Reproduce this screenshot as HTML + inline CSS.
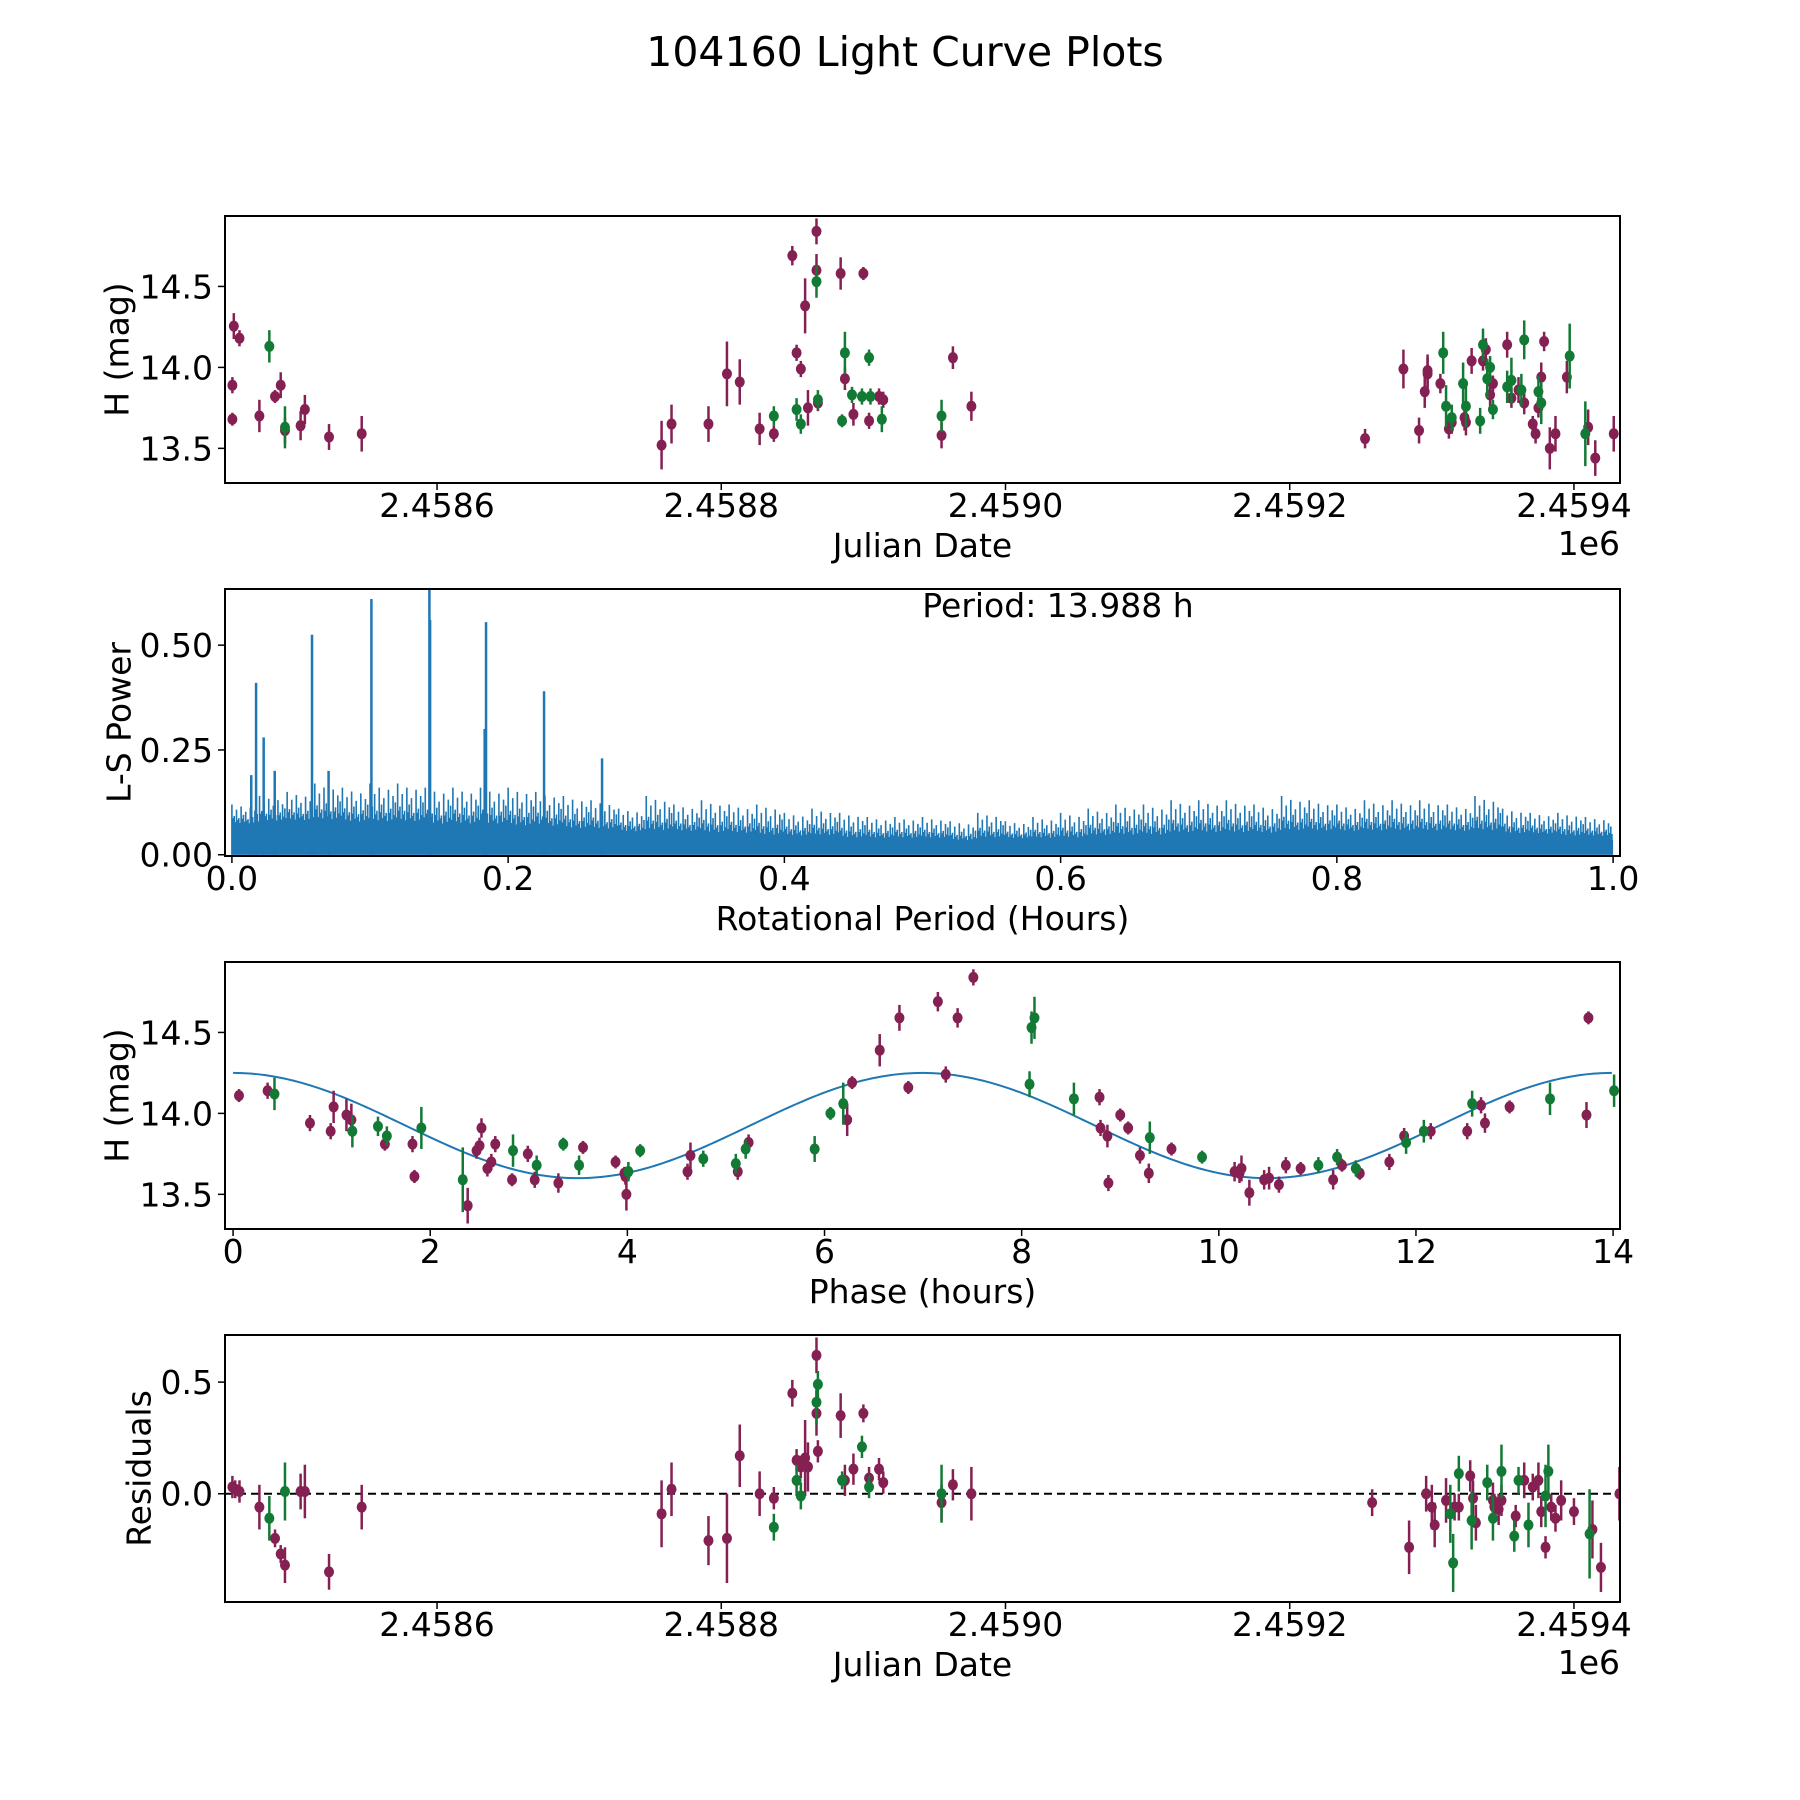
<!DOCTYPE html>
<html><head><meta charset="utf-8"><title>104160 Light Curve Plots</title>
<style>
html,body{margin:0;padding:0;background:#fff;}
svg{display:block;font-family:"DejaVu Sans","Liberation Sans",sans-serif;}
</style></head>
<body>
<svg id="fig" width="1800" height="1800" viewBox="0 0 1800 1800" xmlns="http://www.w3.org/2000/svg">
<rect x="0" y="0" width="1800" height="1800" fill="#fff"/>
<text x="905" y="66" font-size="41" text-anchor="middle">104160 Light Curve Plots</text>
</svg>
<script>
// ---------- Panel 1: light curve (JD - 2458000) ----------
const p1PurpleJD=[457,456,456,461,475,486,490,493,504,507,524,547,758,765,791,804,813,827,837,850,853,856,859,861,867,867,868,884,887,893,900,904,911,914,955,963,976,1253,1280,1291,1295,1297,1297,1306,1312,1314,1323,1324,1328,1336,1338,1341,1343,1353,1356,1361,1365,1371,1373,1375,1377,1379,1383,1387,1395,1410,1415,1428];
const p1PurpleMag=[14.255,13.89,13.68,14.18,13.70,13.82,13.89,13.61,13.64,13.74,13.57,13.59,13.52,13.65,13.65,13.96,13.91,13.62,13.59,14.69,14.09,13.99,14.38,13.75,14.84,14.60,13.78,14.58,13.93,13.71,14.58,13.67,13.82,13.80,13.58,14.06,13.76,13.56,13.99,13.61,13.85,13.98,13.96,13.90,13.62,13.66,13.69,13.66,14.04,14.04,14.11,13.83,13.90,14.14,13.81,13.86,13.78,13.65,13.59,13.75,13.94,14.16,13.50,13.59,13.94,13.63,13.44,13.59];
const p1PurpleErr=[.08,.05,.04,.05,.1,.04,.08,.08,.09,.09,.08,.11,.15,.12,.11,.2,.14,.1,.05,.06,.05,.05,.17,.11,.08,.1,.05,.1,.07,.07,.04,.05,.05,.05,.08,.07,.09,.06,.12,.08,.1,.1,.1,.06,.06,.07,.08,.08,.08,.06,.07,.07,.05,.08,.06,.08,.07,.05,.06,.06,.09,.06,.13,.11,.1,.11,.11,.11];
const p1GreenJD=[482,493,837,853,856,867,868,885,887,892,899,904,905,913,955,1308,1310,1314,1322,1324,1334,1336,1339,1341,1343,1353,1356,1363,1365,1375,1377,1397,1408];
const p1GreenMag=[14.13,13.63,13.70,13.74,13.65,14.53,13.80,13.67,14.09,13.83,13.82,14.06,13.82,13.68,13.70,14.09,13.76,13.69,13.90,13.76,13.67,14.14,13.93,14.00,13.74,13.88,13.92,13.86,14.17,13.85,13.78,14.07,13.59];
const p1GreenErr=[.1,.13,.06,.07,.06,.1,.06,.04,.13,.05,.05,.05,.05,.08,.1,.13,.13,.08,.13,.13,.08,.1,.12,.07,.06,.1,.14,.1,.12,.1,.13,.2,.2];
const jdTicks=[600,800,1000,1200,1400];
const jdTickLabels=["2.4586","2.4588","2.4590","2.4592","2.4594"];
const magTicks=[13.5,14.0,14.5];
const magTickLabels=["13.5","14.0","14.5"];

// ---------- Panel 2: Lomb-Scargle periodogram ----------
const lsEnvX=[0,0.02,0.04,0.06,0.08,0.10,0.12,0.14,0.16,0.18,0.20,0.22,0.24,0.26,0.28,0.30,0.32,0.34,0.36,0.38,0.40,0.42,0.44,0.46,0.48,0.50,0.52,0.54,0.56,0.58,0.60,0.62,0.64,0.66,0.68,0.70,0.72,0.74,0.76,0.78,0.80,0.82,0.84,0.86,0.88,0.90,0.92,0.94,0.96,0.98,1.0];
const lsEnvMax=[0.12,0.14,0.15,0.17,0.16,0.17,0.17,0.16,0.16,0.16,0.16,0.15,0.14,0.13,0.11,0.14,0.12,0.13,0.12,0.12,0.10,0.11,0.10,0.09,0.09,0.09,0.08,0.10,0.08,0.09,0.10,0.11,0.12,0.12,0.13,0.13,0.13,0.12,0.14,0.13,0.12,0.13,0.13,0.13,0.12,0.14,0.11,0.10,0.10,0.09,0.06];
const lsEnvBase=[0.07,0.075,0.075,0.075,0.07,0.07,0.07,0.065,0.065,0.065,0.06,0.06,0.055,0.055,0.05,0.05,0.05,0.045,0.045,0.04,0.04,0.04,0.035,0.035,0.035,0.035,0.03,0.035,0.035,0.035,0.035,0.04,0.04,0.04,0.045,0.045,0.045,0.045,0.05,0.05,0.05,0.05,0.05,0.05,0.05,0.05,0.045,0.045,0.04,0.04,0.035];
const lsPeakX=[0.014,0.0175,0.023,0.031,0.058,0.070,0.101,0.143,0.1435,0.183,0.184,0.226,0.268];
const lsPeakY=[0.19,0.41,0.28,0.20,0.525,0.20,0.61,0.64,0.56,0.30,0.555,0.39,0.23];
const perTicks=[0,0.2,0.4,0.6,0.8,1.0];
const perTickLabels=["0.0","0.2","0.4","0.6","0.8","1.0"];
const powTicks=[0,0.25,0.5];
const powTickLabels=["0.00","0.25","0.50"];

// ---------- Panel 3: phased curve ----------
const p3PurplePhase=[0.06,0.35,0.78,0.99,1.02,1.15,1.2,1.54,1.82,1.84,2.38,2.47,2.5,2.52,2.58,2.62,2.66,2.83,2.99,3.06,3.3,3.55,3.88,3.97,3.98,3.99,4.61,4.64,5.12,5.23,6.23,6.28,6.56,6.76,6.85,7.15,7.23,7.35,7.51,8.79,8.8,8.87,8.88,9.0,9.08,9.2,9.29,9.52,10.16,10.21,10.23,10.31,10.46,10.51,10.61,10.68,10.83,11.16,11.25,11.43,11.73,11.88,12.15,12.52,12.66,12.7,12.95,13.73,13.75];
const p3PurpleMag=[14.11,14.14,13.94,13.89,14.04,13.99,13.96,13.81,13.81,13.61,13.43,13.77,13.80,13.91,13.66,13.70,13.81,13.59,13.75,13.59,13.57,13.79,13.70,13.63,13.61,13.50,13.64,13.74,13.64,13.82,13.96,14.19,14.39,14.59,14.16,14.69,14.24,14.59,14.84,14.10,13.91,13.86,13.57,13.99,13.91,13.74,13.63,13.78,13.64,13.63,13.66,13.51,13.59,13.60,13.56,13.68,13.66,13.59,13.68,13.63,13.70,13.86,13.89,13.89,14.05,13.94,14.04,13.99,14.59];
const p3PurpleErr=[.04,.05,.05,.05,.1,.1,.1,.04,.05,.04,.11,.05,.05,.06,.05,.05,.05,.04,.05,.05,.06,.04,.04,.04,.05,.1,.05,.08,.05,.05,.1,.04,.1,.08,.04,.06,.05,.06,.05,.05,.05,.07,.05,.04,.04,.05,.06,.04,.06,.06,.08,.08,.06,.07,.05,.05,.04,.06,.04,.04,.05,.05,.05,.05,.05,.06,.04,.08,.04];
const p3GreenPhase=[0.42,1.21,1.47,1.56,1.91,2.33,2.84,3.08,3.35,3.51,4.01,4.13,4.77,5.1,5.2,5.9,6.06,6.19,8.08,8.1,8.13,8.53,9.3,9.83,11.01,11.2,11.39,11.9,12.08,12.57,13.36,14.01];
const p3GreenMag=[14.12,13.89,13.92,13.86,13.91,13.59,13.77,13.68,13.81,13.68,13.64,13.77,13.72,13.69,13.78,13.78,14.0,14.06,14.18,14.53,14.59,14.09,13.85,13.73,13.68,13.73,13.66,13.82,13.89,14.06,14.09,14.14];
const p3GreenErr=[.1,.1,.06,.06,.13,.2,.1,.06,.04,.06,.06,.04,.05,.06,.06,.08,.04,.13,.08,.1,.13,.1,.1,.04,.05,.05,.05,.07,.07,.08,.1,.1];
const modelMean=[13.925];
const modelAmp=[0.325];
const modelPeriod=[13.988];
const phaseTicks=[0,2,4,6,8,10,12,14];
const phaseTickLabels=["0","2","4","6","8","10","12","14"];

// ---------- Panel 4: residuals ----------
const p4PurpleJD=[456,458,461,475,486,490,493,504,507,524,547,758,765,791,804,813,827,837,850,853,856,859,861,867,867,868,884,887,893,900,904,911,914,955,963,976,1258,1284,1296,1300,1302,1310,1316,1319,1327,1329,1331,1343,1344,1347,1349,1359,1365,1371,1375,1377,1380,1384,1387,1391,1400,1413,1419,1432];
const p4PurpleRes=[0.03,0.02,0.01,-0.06,-0.2,-0.27,-0.32,0.01,0.01,-0.35,-0.06,-0.09,0.02,-0.21,-0.2,0.17,0.0,-0.02,0.45,0.15,0.12,0.16,0.12,0.62,0.36,0.19,0.35,0.06,0.11,0.36,0.07,0.11,0.05,-0.04,0.04,0.0,-0.04,-0.24,0.0,-0.06,-0.14,-0.03,-0.06,-0.06,0.08,-0.02,-0.13,-0.03,-0.06,-0.07,-0.03,-0.1,0.06,0.03,0.06,-0.08,-0.24,-0.06,-0.11,-0.03,-0.08,-0.16,-0.33,0.0];
const p4PurpleErr=[.05,.04,.05,.1,.04,.04,.08,.08,.12,.08,.1,.15,.12,.11,.2,.14,.1,.05,.06,.05,.05,.17,.11,.08,.1,.05,.1,.07,.07,.04,.05,.05,.05,.08,.07,.12,.06,.12,.08,.1,.1,.1,.06,.06,.07,.08,.08,.08,.06,.07,.07,.05,.08,.06,.08,.07,.05,.06,.06,.09,.06,.13,.11,.12];
const p4GreenJD=[482,493,837,853,856,867,868,885,899,904,955,1313,1315,1319,1328,1339,1343,1349,1358,1361,1368,1380,1382,1411];
const p4GreenRes=[-0.11,0.01,-0.15,0.06,-0.01,0.41,0.49,0.06,0.21,0.03,0.0,-0.09,-0.31,0.09,-0.12,0.05,-0.11,0.1,-0.19,0.06,-0.14,-0.01,0.1,-0.18];
const p4GreenErr=[.1,.13,.06,.07,.06,.1,.06,.04,.05,.05,.13,.13,.13,.08,.13,.08,.1,.12,.07,.06,.1,.14,.12,.2];
const resTicks=[0.0,0.5];
const resTickLabels=["0.0","0.5"];

const NS="http://www.w3.org/2000/svg";
const svg=document.getElementById('fig');
const PURPLE="#852052", GREEN="#137a35", BLUE="#1f77b4";
// texture pattern for noise spikes within each envelope interval (style only)
const SPIKE_TEXTURE=[1,0.45,0.75,0.35,0.9,0.5,0.65,0.3,0.85,0.4,0.7,0.55];
function mk(tag,attrs,parent){const e=document.createElementNS(NS,tag);for(const k in attrs)e.setAttribute(k,attrs[k]);(parent||svg).appendChild(e);return e;}

function makeAxes(name,box,xlim,ylim){
  const g=mk('g',{});
  
  
  const sx=v=>box.x+(v-xlim[0])/(xlim[1]-xlim[0])*box.w;
  const sy=v=>box.y+box.h-(v-ylim[0])/(ylim[1]-ylim[0])*box.h;
  const cp=mk('clipPath',{id:name+'-clip'},g);
  mk('rect',{x:box.x,y:box.y,width:box.w,height:box.h},cp);
  const plot=mk('g',{'clip-path':'url(#'+name+'-clip)'},g);
  
  
  return {g,plot,sx,sy,box};
}
function frame(ax){
  const f=mk('rect',{x:ax.box.x,y:ax.box.y,width:ax.box.w,height:ax.box.h,fill:'none',stroke:'#000','stroke-width':2},ax.g);
  
  
}
function xTicks(ax,ticks,labels){
  const b=ax.box.y+ax.box.h;
  ticks.forEach((t,i)=>{
    const x=ax.sx(t);
    const l=mk('line',{x1:x,x2:x,y1:b,y2:b+7,stroke:'#000','stroke-width':1.5},ax.g);
    
    
    const tx=mk('text',{x:x,y:b+34,'font-size':33,'text-anchor':'middle'},ax.g);
    tx.textContent=labels[i];
    
    
  });
}
function yTicks(ax,ticks,labels){
  const l0=ax.box.x;
  ticks.forEach((t,i)=>{
    const y=ax.sy(t);
    const l=mk('line',{x1:l0-7,x2:l0,y1:y,y2:y,stroke:'#000','stroke-width':1.5},ax.g);
    
    
    const tx=mk('text',{x:l0-12,y:y+12,'font-size':33,'text-anchor':'end'},ax.g);
    tx.textContent=labels[i];
    
    
  });
}
function label(ax,txt,kind,name,off){
  let t;
  if(kind==='x'){
    t=mk('text',{x:ax.box.x+ax.box.w/2,y:ax.box.y+ax.box.h+74,'font-size':33,'text-anchor':'middle'},ax.g);
  }else{
    const cx=off, cy=ax.box.y+ax.box.h/2;
    t=mk('text',{x:cx,y:cy,'font-size':33,'text-anchor':'middle','dominant-baseline':'central',transform:'rotate(-90 '+cx+' '+cy+')'},ax.g);
  }
  t.textContent=txt;
  
  
}
function offsetText(ax){
  const t=mk('text',{x:ax.box.x+ax.box.w,y:ax.box.y+ax.box.h+72,'font-size':33,'text-anchor':'end'},ax.g);
  t.textContent='1e6';
  
  
}
function errPoints(ax,xs,ys,es,color,name){
  const g=mk('g',{},ax.plot);
  
  
  xs.forEach((xv,i)=>{
    const x=ax.sx(xv);
    const l=mk('line',{x1:x,x2:x,y1:ax.sy(ys[i]-es[i]),y2:ax.sy(ys[i]+es[i]),stroke:color,'stroke-width':2.5},g);
    
    
    const c=mk('ellipse',{cx:x,cy:ax.sy(ys[i]),rx:5,ry:5.5,fill:color},g);
    
    
  });
}

const L=225,W=1395,H=267;
const jdLim=[450.8,1432.4];
const magLim=[13.286,14.935];

// Panel 1
const ax1=makeAxes('light-curve-panel',{x:L,y:216,w:W,h:H},jdLim,magLim);
errPoints(ax1,p1PurpleJD,p1PurpleMag,p1PurpleErr,PURPLE,'purple-series');
errPoints(ax1,p1GreenJD,p1GreenMag,p1GreenErr,GREEN,'green-series');
frame(ax1);xTicks(ax1,jdTicks,jdTickLabels);yTicks(ax1,magTicks,magTickLabels);
label(ax1,'Julian Date','x','x-axis-title');label(ax1,'H (mag)','y','y-axis-title',117);offsetText(ax1);

// Panel 2
const ax2=makeAxes('periodogram-panel',{x:L,y:589,w:W,h:H},[-0.005,1.005],[-0.003,0.634]);
(function(){
  let poly='M'+ax2.sx(lsEnvX[0])+','+ax2.sy(0);
  lsEnvX.forEach((xv,i)=>{poly+=' L'+ax2.sx(xv)+','+ax2.sy(lsEnvBase[i]);});
  poly+=' L'+ax2.sx(lsEnvX[lsEnvX.length-1])+','+ax2.sy(0)+' Z';
  const f=mk('path',{d:poly,fill:BLUE,stroke:'none'},ax2.plot);
  
  
  const step=(ax2.sx(0.02)-ax2.sx(0))/SPIKE_TEXTURE.length;
  let d='';
  lsEnvX.forEach((xv,i)=>{
    if(i===lsEnvX.length-1) return;
    const x0=ax2.sx(xv);
    const mx=lsEnvMax[i], bs=lsEnvBase[i];
    SPIKE_TEXTURE.forEach((k,j)=>{
      const x=x0+j*step;
      const top=bs+(mx-bs)*k;
      d+='M'+x+','+ax2.sy(0)+' L'+x+','+ax2.sy(top)+' ';
      d+='M'+(x+step/2)+','+ax2.sy(0)+' L'+(x+step/2)+','+ax2.sy(bs+(mx-bs)*k*0.35)+' ';
    });
  });
  const z=mk('path',{d:d,fill:'none',stroke:BLUE,'stroke-width':1.6},ax2.plot);
  
  
  lsPeakX.forEach((xv,i)=>{
    const x=ax2.sx(xv);
    const p=mk('line',{x1:x,x2:x,y1:ax2.sy(0),y2:ax2.sy(lsPeakY[i]),stroke:BLUE,'stroke-width':2.5},ax2.plot);
    
    
  });
})();
frame(ax2);xTicks(ax2,perTicks,perTickLabels);yTicks(ax2,powTicks,powTickLabels);
label(ax2,'Rotational Period (Hours)','x','x-axis-title');label(ax2,'L-S Power','y','y-axis-title',119);
(function(){const t=mk('text',{x:1058,y:617,'font-size':33,'text-anchor':'middle'},ax2.g);t.textContent='Period: 13.988 h';

})();

// Panel 3
const ax3=makeAxes('phased-curve-panel',{x:L,y:962,w:W,h:H},[-0.082,14.07],magLim);
(function(){
  let d='';
  const n=300;
  for(let i=0;i<=n;i++){
    const ph=modelPeriod[0]*i/n;
    const m=modelMean[0]+modelAmp[0]*Math.cos(4*Math.PI*ph/modelPeriod[0]);
    d+=(i?' L':'M')+ax3.sx(ph)+','+ax3.sy(m);
  }
  const p=mk('path',{d:d,fill:'none',stroke:BLUE,'stroke-width':2},ax3.plot);
  
  
})();
errPoints(ax3,p3PurplePhase,p3PurpleMag,p3PurpleErr,PURPLE,'purple-series');
errPoints(ax3,p3GreenPhase,p3GreenMag,p3GreenErr,GREEN,'green-series');
frame(ax3);xTicks(ax3,phaseTicks,phaseTickLabels);yTicks(ax3,magTicks,magTickLabels);
label(ax3,'Phase (hours)','x','x-axis-title');label(ax3,'H (mag)','y','y-axis-title',117);

// Panel 4
const ax4=makeAxes('residuals-panel',{x:L,y:1335,w:W,h:H},jdLim,[-0.485,0.711]);
(function(){const z=mk('line',{x1:L,x2:L+W,y1:ax4.sy(0),y2:ax4.sy(0),stroke:'#000','stroke-width':2,'stroke-dasharray':'8,5'},ax4.plot);

})();
errPoints(ax4,p4PurpleJD,p4PurpleRes,p4PurpleErr,PURPLE,'purple-series');
errPoints(ax4,p4GreenJD,p4GreenRes,p4GreenErr,GREEN,'green-series');
frame(ax4);xTicks(ax4,jdTicks,jdTickLabels);yTicks(ax4,resTicks,resTickLabels);
label(ax4,'Julian Date','x','x-axis-title');label(ax4,'Residuals','y','y-axis-title',139);offsetText(ax4);
</script>
</body></html>
